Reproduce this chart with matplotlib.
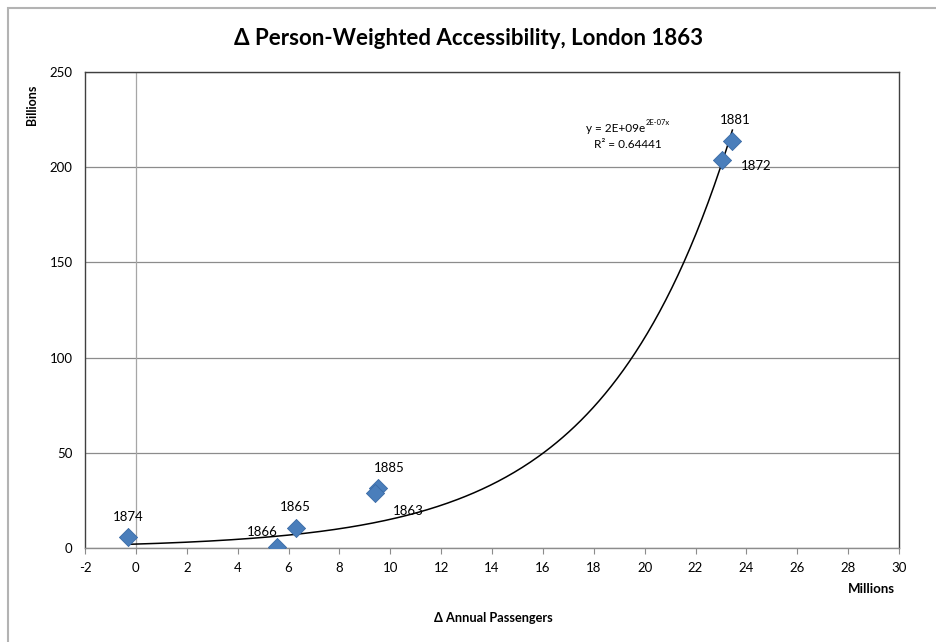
import matplotlib.pyplot as plt
import numpy as np
from matplotlib.patches import Rectangle

plt.rcParams["font.family"] = ["Lato", "DejaVu Sans"]
plt.rcParams["axes.unicode_minus"] = False

# values (x: millions of passengers, y: billions)
years = ["1874", "1866", "1865", "1885", "1863", "1881", "1872"]
passengers = [-0.30, 5.53, 6.28, 9.52, 9.41, 23.45, 23.06]
accessibility = [5.6, 0.3, 10.5, 31.7, 28.7, 213.9, 203.8]

equation = "y = 2E+09e"
exponent = "2E-07x"
r_squared = "R² = 0.64441"

# label offsets in points (style only)
label_offsets = {
    "1874": (0, 15), "1866": (-10, 11), "1865": (0, 15), "1885": (8, 14),
    "1863": (24, -13), "1881": (2, 15), "1872": (24, -4),
}

fig = plt.figure(figsize=(9.37, 6.42), dpi=100)
fig.patches.append(Rectangle((8 / 937, -0.01), 1.0, 1 - 8 / 642 + 0.01,
                             transform=fig.transFigure, fill=False,
                             edgecolor="#b3b3b3", linewidth=1.5))
ax = fig.add_axes([85 / 937, 1 - 548 / 642, 814 / 937, 476 / 642])

# exponential trendline, Excel style (least squares on ln y)
x = np.array(passengers)
y = np.array(accessibility)
b, ln_a = np.polyfit(x, np.log(y), 1)
xs = np.linspace(x.min(), x.max(), 300)
ax.plot(xs, np.exp(ln_a) * np.exp(b * xs), color="black", linewidth=1.1, zorder=3)

ax.scatter(x, y, marker="D", s=85, color="#4a7ebb", edgecolor="#3a6aa6",
           linewidth=0.6, zorder=4)
for yr, xv, yv in zip(years, passengers, accessibility):
    ax.annotate(yr, (xv, yv), xytext=label_offsets[yr], textcoords="offset points",
                ha="center", va="center", fontsize=9.5)

eq = ax.text(0.652, 0.882, equation, transform=ax.transAxes, ha="center",
             va="center", fontsize=8.5)
ax.annotate(exponent, xy=(1, 0.5), xycoords=eq, xytext=(0.5, 1.5),
            textcoords="offset points", ha="left", va="bottom", fontsize=5.5)
ax.text(0.667, 0.847, r_squared, transform=ax.transAxes, ha="center", va="center",
        fontsize=8.5)

ax.set_xlim(-2, 30)
ax.set_ylim(0, 250)
ax.set_xticks(np.arange(-2, 31, 2))
ax.set_yticks(np.arange(0, 251, 50))
ax.grid(axis="y", color="#8c8c8c", linewidth=0.9)
ax.axvline(0, color="#a6a6a6", linewidth=0.9, zorder=1)
ax.set_axisbelow(True)
for s in ax.spines.values():
    s.set_color("#404040")
    s.set_linewidth(1.0)
ax.spines["bottom"].set_color("#8c8c8c")
ax.tick_params(axis="x", direction="out", length=4, color="#8c8c8c",
               labelsize=9.5, pad=6)
ax.tick_params(axis="y", length=0, labelsize=9.5, pad=9)

fig.suptitle("Δ Person-Weighted Accessibility, London 1863", x=0.5, y=0.957,
             fontsize=16, fontweight="bold")
fig.text(32 / 937, 1 - 105 / 642, "Billions", rotation=90, ha="center", va="center",
         fontsize=9, fontweight="bold")
fig.text(871 / 937, 1 - 589 / 642, "Millions", ha="center", va="center",
         fontsize=9.5, fontweight="bold")
fig.text(493 / 937, 1 - 618 / 642, "Δ Annual Passengers", ha="center", va="center",
         fontsize=9.2, fontweight="bold")

fig.savefig("out.png", dpi=100)
